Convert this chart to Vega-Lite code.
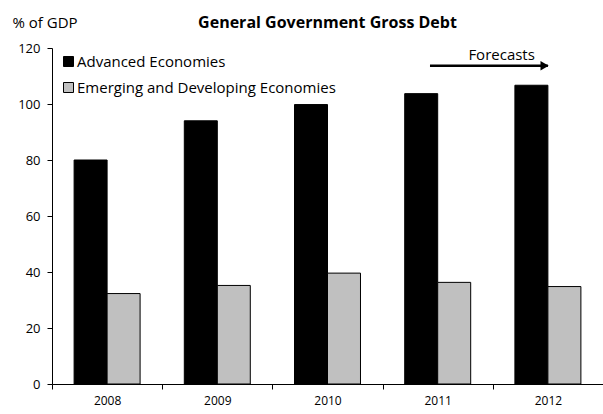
{
  "$schema": "https://vega.github.io/schema/vega-lite/v6.json",
  "width": 551,
  "height": 336,
  "autosize": {"type": "none"},
  "padding": {"left": 52, "top": 48, "right": 0, "bottom": 30},
  "background": "white",
  "config": {"view": {"stroke": null}, "font": "Open Sans"},
  "title": {"text": "General Government Gross Debt", "fontSize": 16, "fontWeight": "bold", "anchor": "middle", "color": "black", "font": "Open Sans", "dy": 20},
  "datasets": {
    "debt": [
      {"year": "2008", "series": "Advanced Economies", "value": 80.0},
      {"year": "2009", "series": "Advanced Economies", "value": 94.0},
      {"year": "2010", "series": "Advanced Economies", "value": 99.8},
      {"year": "2011", "series": "Advanced Economies", "value": 103.7},
      {"year": "2012", "series": "Advanced Economies", "value": 106.7},
      {"year": "2008", "series": "Emerging and Developing Economies", "value": 32.3},
      {"year": "2009", "series": "Emerging and Developing Economies", "value": 35.2},
      {"year": "2010", "series": "Emerging and Developing Economies", "value": 39.6},
      {"year": "2011", "series": "Emerging and Developing Economies", "value": 36.3},
      {"year": "2012", "series": "Emerging and Developing Economies", "value": 34.8}
    ],
    "arrow": [{"from": "2011", "to": "2012", "y": 113.7, "label": "Forecasts", "ly": 117.4}]
  },
  "layer": [
    {
      "data": {"name": "debt"},
      "mark": {"type": "bar", "stroke": "black", "strokeWidth": 1},
      "encoding": {
        "x": {
          "field": "year", "type": "nominal",
          "scale": {"paddingInner": 0, "paddingOuter": 0},
          "axis": {"title": null, "labelAngle": 0, "tickBand": "extent", "domainColor": "black", "tickColor": "black", "tickSize": 5, "labelFontSize": 12, "labelColor": "black", "labelPadding": 6, "labelFont": "Open Sans"}
        },
        "xOffset": {
          "field": "series", "type": "nominal",
          "sort": ["Advanced Economies", "Emerging and Developing Economies"],
          "scale": {"paddingInner": 0, "paddingOuter": 0.67}
        },
        "y": {
          "field": "value", "type": "quantitative",
          "scale": {"domain": [0, 120], "nice": false},
          "axis": {"title": "% of GDP", "titleAngle": 0, "titleAlign": "left", "titleBaseline": "middle", "titleX": -40, "titleY": -26, "titleFontSize": 15, "titleFontWeight": "normal", "titleColor": "black", "titleFont": "Open Sans", "values": [0, 20, 40, 60, 80, 100, 120], "grid": false, "domainColor": "black", "tickColor": "black", "tickSize": 5, "labelFontSize": 13, "labelColor": "black", "labelPadding": 7, "labelFont": "Open Sans"}
        },
        "color": {
          "field": "series", "type": "nominal",
          "sort": ["Advanced Economies", "Emerging and Developing Economies"],
          "scale": {"range": ["#000000", "#c0c0c0"]},
          "legend": {"title": null, "orient": "none", "legendX": 9, "legendY": 6, "symbolType": "square", "symbolSize": 100, "symbolStrokeColor": "black", "symbolStrokeWidth": 1, "symbolOpacity": 1, "labelFontSize": 15, "labelColor": "black", "labelFont": "Open Sans", "labelOffset": 1, "rowPadding": 10, "labelLimit": 400}
        }
      }
    },
    {
      "data": {"name": "arrow"},
      "mark": {"type": "rule", "color": "black", "strokeWidth": 2.5},
      "encoding": {
        "x": {"field": "from", "type": "nominal", "bandPosition": 0.43},
        "x2": {"field": "to"},
        "y": {"field": "y", "type": "quantitative"}
      }
    },
    {
      "data": {"name": "arrow"},
      "mark": {"type": "point", "shape": "triangle-right", "filled": true, "color": "black", "opacity": 1, "size": 90},
      "encoding": {
        "x": {"field": "to", "type": "nominal", "bandPosition": 0.47},
        "y": {"field": "y", "type": "quantitative"}
      }
    },
    {
      "data": {"name": "arrow"},
      "mark": {"type": "text", "fontSize": 15, "color": "black", "baseline": "middle", "align": "center", "font": "Open Sans"},
      "encoding": {
        "x": {"field": "to", "type": "nominal", "bandPosition": 0.08},
        "y": {"field": "ly", "type": "quantitative"},
        "text": {"field": "label"}
      }
    }
  ]
}
